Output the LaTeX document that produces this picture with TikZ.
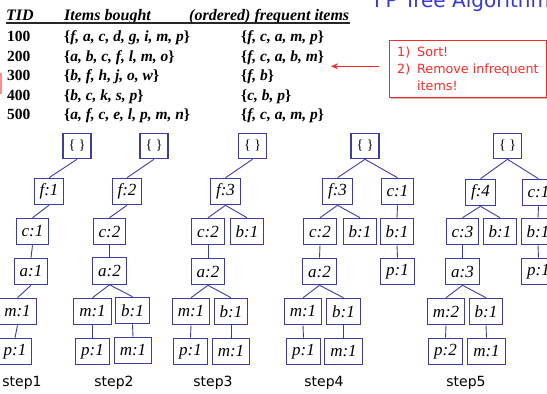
\documentclass[tikz,border=0pt]{standalone}
\usepackage{fontspec}
\setmainfont{Liberation Serif}
\newfontfamily\dejavu{DejaVu Sans}
\usetikzlibrary{arrows.meta}
\definecolor{nodeblue}{RGB}{60,60,165}
\definecolor{titleblue}{RGB}{55,55,215}
\definecolor{notered}{RGB}{255,40,40}
\newcommand{\myset}[1]{\textup{\{}\textit{#1}\textup{\}}}
\begin{document}
\begin{tikzpicture}[x=1pt,y=-1pt,
  tn/.style={draw=nodeblue,line width=1.1pt,fill=white,minimum height=26.5pt,inner xsep=5.5pt,inner ysep=0pt,font=\fontsize{17}{17}\selectfont\itshape,text=black},
  rt/.style={tn,minimum width=28pt,minimum height=25.5pt,inner xsep=2pt,font=\fontsize{14}{14}\selectfont\upshape},
  ed/.style={draw=nodeblue,line width=0.9pt},
  lbl/.style={font=\dejavu\fontsize{14}{14}\selectfont,inner sep=0pt},
  tb/.style={anchor=base west,inner sep=0pt,font=\fontsize{15.5}{15.5}\selectfont\bfseries},
  th/.style={tb,font=\fontsize{16}{16}\selectfont\bfseries\itshape},
  nt/.style={anchor=base west,inner sep=0pt,text=notered,font=\dejavu\fontsize{12.7}{12.7}\selectfont}]
\useasboundingbox (0,0) rectangle (547,394);
\clip (0,0) rectangle (547,394);
\fill[white] (0,0) rectangle (547,394);

% title (cut off)
\node[anchor=base west,inner sep=0pt,text=titleblue,font=\dejavu\fontsize{20}{20}\selectfont] (title) at (374,7.5) {FP Tree Algorithm};

% left red mark
\fill[red!45] (0,73) rectangle (2,94);

% table header
\node[th] (hTID) at (6,20.5) {TID};
\node[th] (hItems) at (64,20.5) {Items bought};
\node[th] (hFreq) at (189,20.5) {(ordered) frequent items};
\coordinate (ulL) at (6,23);
\coordinate (ulR) at (350,23);
\draw[line width=1.2pt,black!85] (ulL) -- (ulR);

% rows
\node[tb] (t1) at (7,41.7) {100};
\node[tb] (t2) at (7,61) {200};
\node[tb] (t3) at (7,80.5) {300};
\node[tb] (t4) at (7,100) {400};
\node[tb] (t5) at (7,119.3) {500};
\node[tb] (i1) at (64,41.7) {\myset{f, a, c, d, g, i, m, p}};
\node[tb] (i2) at (64,61) {\myset{a, b, c, f, l, m, o}};
\node[tb] (i3) at (64,80.5) {\myset{b, f, h, j, o, w}};
\node[tb] (i4) at (64,100) {\myset{b, c, k, s, p}};
\node[tb] (i5) at (64,119.3) {\myset{a, f, c, e, l, p, m, n}};
\node[tb] (f1) at (241,41.7) {\myset{f, c, a, m, p}};
\node[tb] (f2) at (241,61) {\myset{f, c, a, b, m}};
\node[tb] (f3) at (241,80.5) {\myset{f, b}};
\node[tb] (f4) at (241,100) {\myset{c, b, p}};
\node[tb] (f5) at (241,119.3) {\myset{f, c, a, m, p}};

% note box
\fill[black!25] (391,42) rectangle (548,99);
\node[draw=notered,line width=0.8pt,fill=white,minimum width=157pt,minimum height=57pt,anchor=north west,inner sep=0pt] (note) at (389,40) {};
\node[nt] (n1a) at (397,56) {1)};
\node[nt] (n1b) at (417,56) {Sort!};
\node[nt] (n2a) at (397,73.5) {2)};
\node[nt] (n2b) at (417,73.5) {Remove infrequent};
\node[nt] (n3b) at (417,90.5) {items!};
\coordinate (arrS) at (378.5,66.3);
\coordinate (arrE) at (331,66.3);
\draw[notered,line width=1.4pt,-{Stealth[length=7pt,width=6pt]}] (arrS) -- (arrE);

% ---------- step1
\node[rt] (a0) at (77,146) {\{ \}};
\node[tn] (a1) at (49,191.5) {f:1};
\node[tn] (a2) at (32.5,231.5) {c:1};
\node[tn] (a3) at (31,271.5) {a:1};
\node[tn] (a4) at (17.5,311.5) {m:1};
\node[tn] (a5) at (15,351.5) {p:1};
\node[lbl] (la) at (22,383) {step1};
\draw[ed] (a0.south) -- (a1.north);
\draw[ed] (a1.south) -- (a2.north);
\draw[ed] (a2.south) -- (a3.north);
\draw[ed] (a3.south) -- (a4.north);
\draw[ed] (a4.south) -- (a5.north);

% ---------- step2
\node[rt] (b0) at (154,146) {\{ \}};
\node[tn] (b1) at (127,191.5) {f:2};
\node[tn] (b2) at (109.5,231.5) {c:2};
\node[tn] (b3) at (109.5,271) {a:2};
\node[tn] (b4) at (92.5,311.5) {m:1};
\node[tn] (b5) at (132.5,310.5) {b:1};
\node[tn] (b6) at (92.5,351.5) {p:1};
\node[tn] (b7) at (133,350.5) {m:1};
\node[lbl] (lb) at (114,383) {step2};
\draw[ed] (b0.south) -- (b1.north);
\draw[ed] (b1.south) -- (b2.north);
\draw[ed] (b2.south) -- (b3.north);
\draw[ed] (b3.south) -- (b4.north);
\draw[ed] (b3.south) -- (b5.north);
\draw[ed] (b4.south) -- (b6.north);
\draw[ed] (b5.south) -- (b7.north);

% ---------- step3
\node[rt] (c0) at (252.5,146) {\{ \}};
\node[tn] (c1) at (225.5,191.5) {f:3};
\node[tn] (c2) at (208,231.5) {c:2};
\node[tn] (c3) at (247,231.5) {b:1};
\node[tn] (c4) at (208,271.5) {a:2};
\node[tn] (c5) at (191,311.5) {m:1};
\node[tn] (c6) at (231,311.5) {b:1};
\node[tn] (c7) at (190.5,351.5) {p:1};
\node[tn] (c8) at (231,351.5) {m:1};
\node[lbl] (lc) at (213,383) {step3};
\draw[ed] (c0.south) -- (c1.north);
\draw[ed] (c1.south) -- (c2.north);
\draw[ed] (c1.south) -- (c3.north);
\draw[ed] (c2.south) -- (c4.north);
\draw[ed] (c4.south) -- (c5.north);
\draw[ed] (c4.south) -- (c6.north);
\draw[ed] (c5.south) -- (c7.north);
\draw[ed] (c6.south) -- (c8.north);

% ---------- step4
\node[rt] (d0) at (365,146) {\{ \}};
\node[tn] (d1) at (337.5,191.5) {f:3};
\node[tn] (d2) at (397.5,191.5) {c:1};
\node[tn] (d3) at (320,231.5) {c:2};
\node[tn] (d4) at (360,231.5) {b:1};
\node[tn] (d5) at (397,231.5) {b:1};
\node[tn] (d6) at (319.5,271.5) {a:2};
\node[tn] (d7) at (397.5,271.5) {p:1};
\node[tn] (d8) at (303,311.5) {m:1};
\node[tn] (d9) at (343.5,311.5) {b:1};
\node[tn] (d10) at (303.5,351.5) {p:1};
\node[tn] (d11) at (343.5,351.5) {m:1};
\node[lbl] (ld) at (324,383) {step4};
\draw[ed] (d0.south) -- (d1.north);
\draw[ed] (d0.south) -- (d2.north);
\draw[ed] (d1.south) -- (d3.north);
\draw[ed] (d1.south) -- (d4.north);
\draw[ed] (d2.south) -- (d5.north);
\draw[ed] (d3.south) -- (d6.north);
\draw[ed] (d5.south) -- (d7.north);
\draw[ed] (d6.south) -- (d8.north);
\draw[ed] (d6.south) -- (d9.north);
\draw[ed] (d8.south) -- (d10.north);
\draw[ed] (d9.south) -- (d11.north);

% ---------- step5
\node[rt] (e0) at (507.5,146) {\{ \}};
\node[tn] (e1) at (480.5,192.5) {f:4};
\node[tn] (e2) at (538.5,192.5) {c:1};
\node[tn] (e3) at (462.5,231.5) {c:3};
\node[tn] (e4) at (500,231.5) {b:1};
\node[tn] (e5) at (538,231.5) {b:1};
\node[tn] (e6) at (462.5,271.5) {a:3};
\node[tn] (e7) at (538.5,271.5) {p:1};
\node[tn] (e8) at (446,311.5) {m:2};
\node[tn] (e9) at (486,311.5) {b:1};
\node[tn] (e10) at (445.5,351.5) {p:2};
\node[tn] (e11) at (486.5,351.5) {m:1};
\node[lbl] (le) at (466,383) {step5};
\draw[ed] (e0.south) -- (e1.north);
\draw[ed] (e0.south) -- (e2.north);
\draw[ed] (e1.south) -- (e3.north);
\draw[ed] (e1.south) -- (e4.north);
\draw[ed] (e2.south) -- (e5.north);
\draw[ed] (e3.south) -- (e6.north);
\draw[ed] (e5.south) -- (e7.north);
\draw[ed] (e6.south) -- (e8.north);
\draw[ed] (e6.south) -- (e9.north);
\draw[ed] (e8.south) -- (e10.north);
\draw[ed] (e9.south) -- (e11.north);
\end{tikzpicture}
\end{document}
